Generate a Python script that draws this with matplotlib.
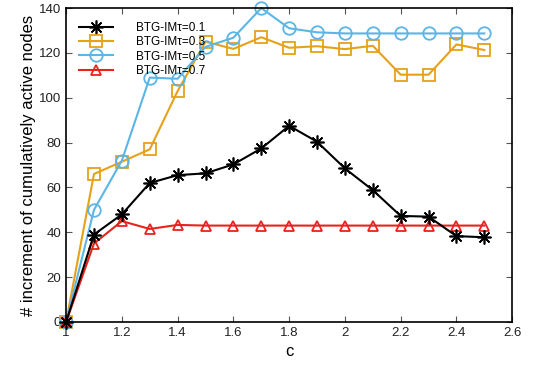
import numpy as np
import matplotlib.pyplot as plt

plt.rcParams['font.family'] = ['Liberation Sans', 'DejaVu Sans']

c = [1.0, 1.1, 1.2, 1.3, 1.4, 1.5, 1.6, 1.7, 1.8, 1.9, 2.0, 2.1, 2.2, 2.3, 2.4, 2.5]
tau01 = [0, 39, 48, 62, 65.5, 66.3, 70.3, 77.4, 87.5, 80.4, 68.5, 58.8, 47.3, 47, 38.3, 37.8]
tau03 = [0, 66, 71.5, 77, 103, 125, 121.8, 127, 122.3, 123, 121.7, 123.2, 110.3, 110.3, 123.8, 121.3]
tau05 = [0, 50, 72, 109, 108.5, 122.7, 126.8, 140, 131, 129.2, 128.7, 128.7, 128.7, 128.7, 128.7, 128.7]
tau07 = [0, 35, 45, 41.5, 43.3, 43, 43, 43, 43, 43, 43, 43, 43, 43, 43, 43]

labels = ['BTG-IMτ=0.1', 'BTG-IMτ=0.3', 'BTG-IMτ=0.5', 'BTG-IMτ=0.7']

fig = plt.figure(figsize=(5.33, 3.68), dpi=100)
ax = fig.add_axes([0.124, 0.125, 0.837, 0.853])

ax.plot(c, tau01, color='black', lw=1.5, marker=(8, 2, 0), ms=10, mew=1.2, label=labels[0], clip_on=False, zorder=4)
ax.plot(c, tau03, color='#E6A118', lw=1.5, marker='s', ms=9, mfc='none', mew=1.3, label=labels[1], clip_on=False)
ax.plot(c, tau05, color='#5BB5E6', lw=1.5, marker='o', ms=9, mfc='none', mew=1.3, label=labels[2], clip_on=False)
ax.plot(c, tau07, color='#E8231C', lw=1.5, marker='^', ms=7, mfc='none', mew=1.3, label=labels[3], clip_on=False)

ax.set_xlim(1, 2.6)
ax.set_ylim(0, 140)
ax.set_xticks(np.arange(1, 2.61, 0.2))
ax.set_xticklabels(['1', '1.2', '1.4', '1.6', '1.8', '2', '2.2', '2.4', '2.6'])
ax.set_yticks(range(0, 141, 20))
ax.tick_params(direction='in', top=True, right=True, labelsize=9.5, length=4,
               color='#555555', labelcolor='#222222')
for s in ax.spines.values():
    s.set_linewidth(1.2)

ax.set_xlabel('c', fontsize=12)
ax.set_ylabel('# increment of cumulatively active nodes', fontsize=12, labelpad=2)

ax.legend(loc='upper left', frameon=False, fontsize=8.5, handlelength=2.9,
          handletextpad=1.9, labelspacing=0.2, bbox_to_anchor=(0.005, 0.99))

fig.savefig('out.png', dpi=100)
